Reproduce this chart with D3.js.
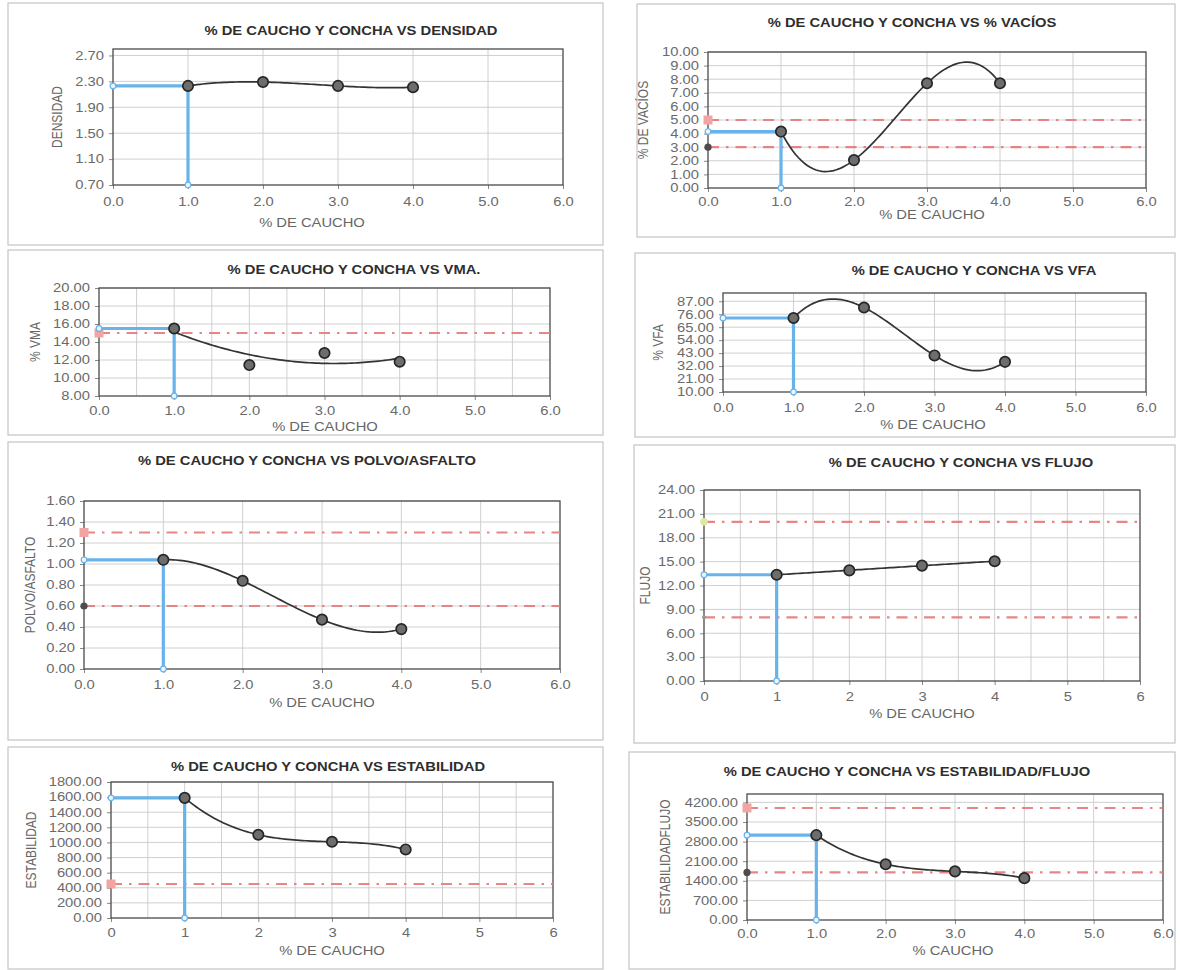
<!DOCTYPE html>
<html>
<head>
<meta charset="utf-8">
<script src="https://cdn.jsdelivr.net/npm/d3@7"></script>
<style>
  body { margin: 0; background: #fff; }
  svg { display: block; }
</style>
</head>
<body>
<svg id="chart" width="1180" height="970"></svg>
<script>
// ---- Data: Marshall test results vs % rubber (caucho) with shell (concha) ----
const rubberPct = [1, 2, 3, 4];
const designRubberPct = 1;
const xTickValues = [0, 1, 2, 3, 4, 5, 6];

const densidad = [2.23, 2.29, 2.23, 2.21];
const vacios = [4.15, 2.05, 7.7, 7.7];
const vma = [15.5, 11.44, 12.78, 11.81];
const vfa = [72.8, 81.7, 41.0, 35.6];
const polvoAsfalto = [1.04, 0.84, 0.47, 0.38];
const flujo = [13.35, 13.9, 14.5, 15.05];
const estabilidad = [1590, 1102, 1009, 907];
const estabilidadFlujo = [3030, 1990, 1736, 1495];

// specification limits (dash-dot lines)
const vaciosLimits = [5, 3];
const vmaLimits = [15];
const polvoLimits = [1.3, 0.6];
const flujoLimits = [20, 8];
const estabilidadLimits = [450];
const estabilidadFlujoLimits = [4000, 1700];

// y tick labels
const densidadTicks = [0.7, 1.1, 1.5, 1.9, 2.3, 2.7];
const vaciosTicks = [0, 1, 2, 3, 4, 5, 6, 7, 8, 9, 10];
const vmaTicks = [8, 10, 12, 14, 16, 18, 20];
const vfaTicks = [10, 21, 32, 43, 54, 65, 76, 87];
const polvoTicks = [0, 0.2, 0.4, 0.6, 0.8, 1.0, 1.2, 1.4, 1.6];
const flujoTicks = [0, 3, 6, 9, 12, 15, 18, 21, 24];
const estabilidadTicks = [0, 200, 400, 600, 800, 1000, 1200, 1400, 1600, 1800];
const estabilidadFlujoTicks = [0, 700, 1400, 2100, 2800, 3500, 4200];

// ---- Panel definitions (content) ----
const panels = [
  { title: "% DE CAUCHO Y CONCHA VS DENSIDAD", yLabel: "DENSIDAD", xLabel: "% DE CAUCHO",
    values: densidad, ticks: densidadTicks, yMax: 2.8, limits: [], trend: 3 },
  { title: "% DE CAUCHO Y CONCHA VS % VACÍOS", yLabel: "% DE VACÍOS", xLabel: "% DE CAUCHO",
    values: vacios, ticks: vaciosTicks, yMax: 10, limits: vaciosLimits, trend: 3 },
  { title: "% DE CAUCHO Y CONCHA VS VMA.", yLabel: "% VMA", xLabel: "% DE CAUCHO",
    values: vma, ticks: vmaTicks, yMax: 20, limits: vmaLimits, trend: 2 },
  { title: "% DE CAUCHO Y CONCHA VS VFA", yLabel: "% VFA", xLabel: "% DE CAUCHO",
    values: vfa, ticks: vfaTicks, yMax: 94, limits: [], trend: 3 },
  { title: "% DE CAUCHO Y CONCHA VS POLVO/ASFALTO", yLabel: "POLVO/ASFALTO", xLabel: "% DE CAUCHO",
    values: polvoAsfalto, ticks: polvoTicks, yMax: 1.6, limits: polvoLimits, trend: 3 },
  { title: "% DE CAUCHO Y CONCHA VS FLUJO", yLabel: "FLUJO", xLabel: "% DE CAUCHO",
    values: flujo, ticks: flujoTicks, yMax: 24, limits: flujoLimits, trend: 1 },
  { title: "% DE CAUCHO Y CONCHA VS ESTABILIDAD", yLabel: "ESTABILIDAD", xLabel: "% DE CAUCHO",
    values: estabilidad, ticks: estabilidadTicks, yMax: 1800, limits: estabilidadLimits, trend: 3 },
  { title: "% DE CAUCHO Y CONCHA VS ESTABILIDAD/FLUJO", yLabel: "ESTABILIDADFLUJO", xLabel: "% CAUCHO",
    values: estabilidadFlujo, ticks: estabilidadFlujoTicks, yMax: 4500, limits: estabilidadFlujoLimits, trend: 3 }
];

// ---- Layout and style for each panel ----
const layouts = [
  { frame: [8, 3, 595, 242], plot: [113, 49, 563, 185], titleX: 351, titleY: 31, yLabelX: 57, xLabelX: 312, xLabelY: 223, xTickY: 202, xFmt: ".1f", halfGrid: false, marks: [] },
  { frame: [637, 4, 538, 233], plot: [708, 52, 1146, 188], titleX: 912, titleY: 23, yLabelX: 643, xLabelX: 932, xLabelY: 215, xTickY: 202, xFmt: ".1f", halfGrid: false, marks: ["square", "dot"] },
  { frame: [8, 250, 595, 185], plot: [99, 288, 550, 396], titleX: 354, titleY: 270, yLabelX: 35, xLabelX: 325, xLabelY: 427, xTickY: 411, xFmt: ".1f", halfGrid: true, marks: ["square"] },
  { frame: [635, 253, 540, 184], plot: [723, 293, 1146, 392], titleX: 974, titleY: 271, yLabelX: 658, xLabelX: 933, xLabelY: 425, xTickY: 408, xFmt: ".1f", halfGrid: false, marks: [] },
  { frame: [8, 442, 595, 298], plot: [84, 501, 560, 669], titleX: 307, titleY: 461, yLabelX: 30, xLabelX: 322, xLabelY: 703, xTickY: 685, xFmt: ".1f", halfGrid: false, marks: ["square", "dot"] },
  { frame: [634, 445, 541, 298], plot: [704, 490, 1140, 681], titleX: 961, titleY: 463, yLabelX: 645, xLabelX: 922, xLabelY: 714, xTickY: 697, xFmt: "d", halfGrid: true, marks: ["yellow", "small"] },
  { frame: [8, 747, 595, 222], plot: [111, 782, 553, 918], titleX: 328, titleY: 767, yLabelX: 31, xLabelX: 332, xLabelY: 951, xTickY: 933, xFmt: "d", halfGrid: true, marks: ["square"] },
  { frame: [629, 752, 546, 217], plot: [747, 794, 1163, 920], titleX: 907, titleY: 772, yLabelX: 665, xLabelX: 953, xLabelY: 951, xTickY: 934, xFmt: ".1f", halfGrid: false, marks: ["square", "dot"] }
];

const SX = 1.23;                       // horizontal text stretch of the printed sheet
const FONT = "'Liberation Sans', Arial, Helvetica, sans-serif";
const C = {
  frame: "#c4c4c4", plotBorder: "#4a4a4a", grid: "#cbcbcb", tickText: "#6a6a6a",
  title: "#2e2e2e", axisTitle: "#666", line: "#333", markFill: "#6d6d6d", markStroke: "#262626",
  design: "#68b3ea", limit: "#e67a7a", limitSquare: "#f2a3a3", limitDot: "#4d4d4d", yellow: "#dfe7a4"
};

// least-squares polynomial trendline coefficients (c0 + c1 x + c2 x^2 ...)
function polyFit(xs, ys, order) {
  const n = order + 1;
  const A = Array.from({ length: n }, () => new Array(n + 1).fill(0));
  for (let r = 0; r < n; r++) {
    for (let c = 0; c < n; c++) A[r][c] = d3.sum(xs, v => Math.pow(v, r + c));
    A[r][n] = d3.sum(xs, (v, i) => ys[i] * Math.pow(v, r));
  }
  for (let i = 0; i < n; i++) {
    let p = i;
    for (let k = i + 1; k < n; k++) if (Math.abs(A[k][i]) > Math.abs(A[p][i])) p = k;
    [A[i], A[p]] = [A[p], A[i]];
    for (let k = 0; k < n; k++) {
      if (k === i) continue;
      const f = A[k][i] / A[i][i];
      for (let c = i; c <= n; c++) A[k][c] -= f * A[i][c];
    }
  }
  return A.map((row, i) => row[n] / row[i]);
}
const polyEval = (coef, v) => coef.reduce((s, c, i) => s + c * Math.pow(v, i), 0);

function label(g, x, y, s, o = {}) {
  const t = g.append("text")
    .attr("font-family", FONT)
    .attr("font-size", o.size || 12)
    .attr("font-weight", o.weight || "normal")
    .attr("fill", o.fill || C.axisTitle)
    .attr("text-anchor", o.anchor || "middle")
    .attr("dy", "0.35em")
    .text(s);
  t.attr("transform", o.rotate
    ? `translate(${x},${y}) rotate(-90) scale(1,${SX})`
    : `translate(${x},${y}) scale(${SX},1)`);
  return t;
}

const svg = d3.select("#chart");

panels.forEach((p, i) => {
  const L = layouts[i];
  const [pl, pt, pr, pb] = L.plot;
  const g = svg.append("g");

  // chart area border
  g.append("rect")
    .attr("x", L.frame[0]).attr("y", L.frame[1])
    .attr("width", L.frame[2]).attr("height", L.frame[3])
    .attr("fill", "#fff").attr("stroke", C.frame).attr("stroke-width", 1.2);

  const x = d3.scaleLinear().domain([0, 6]).range([pl, pr]);
  const y = d3.scaleLinear().domain([p.ticks[0], p.yMax]).range([pb, pt]);

  // gridlines
  const vGrid = L.halfGrid ? d3.range(0.5, 6, 0.5) : xTickValues.slice(1, -1);
  g.append("g").selectAll("line").data(vGrid).join("line")
    .attr("x1", d => x(d)).attr("x2", d => x(d)).attr("y1", pt).attr("y2", pb)
    .attr("stroke", C.grid).attr("stroke-width", 0.9);
  g.append("g").selectAll("line").data(p.ticks.slice(1)).join("line")
    .attr("x1", pl).attr("x2", pr).attr("y1", d => y(d)).attr("y2", d => y(d))
    .attr("stroke", C.grid).attr("stroke-width", 0.9);

  // axes
  const yAxis = g.append("g").attr("transform", `translate(${pl},0)`)
    .call(d3.axisLeft(y).tickValues(p.ticks).tickFormat(d3.format(".2f")).tickSize(4).tickPadding(5));
  const xAxis = g.append("g").attr("transform", `translate(0,${pb})`)
    .call(d3.axisBottom(x).tickValues(xTickValues).tickFormat(d3.format(L.xFmt)).tickSize(4).tickPadding(5));
  [yAxis, xAxis].forEach(a => {
    a.select(".domain").remove();
    a.selectAll(".tick line").attr("stroke", "#888");
    a.selectAll(".tick text")
      .attr("font-family", FONT).attr("font-size", 12).attr("fill", C.tickText);
  });
  yAxis.selectAll(".tick text").attr("x", -9 / SX).attr("transform", `scale(${SX},1)`);
  xAxis.selectAll(".tick text").attr("y", null).attr("dy", null)
    .attr("transform", `translate(0,${L.xTickY - pb}) scale(${SX},1)`)
    .attr("dominant-baseline", "central");

  // plot border
  g.append("rect").attr("x", pl).attr("y", pt).attr("width", pr - pl).attr("height", pb - pt)
    .attr("fill", "none").attr("stroke", C.plotBorder).attr("stroke-width", 1.3);

  // specification limits
  p.limits.forEach((v, k) => {
    g.append("line")
      .attr("x1", x(0)).attr("x2", x(6)).attr("y1", y(v)).attr("y2", y(v))
      .attr("stroke", C.limit).attr("stroke-width", 2.2)
      .attr("stroke-dasharray", "11,7,2.5,7").attr("opacity", 0.9);
    const kind = L.marks[k];
    if (kind === "square") {
      g.append("rect").attr("x", x(0) - 4.5).attr("y", y(v) - 4.5).attr("width", 9).attr("height", 9)
        .attr("fill", C.limitSquare);
    } else if (kind === "dot") {
      g.append("circle").attr("cx", x(0)).attr("cy", y(v)).attr("r", 3.6).attr("fill", C.limitDot);
    } else if (kind === "yellow") {
      g.append("circle").attr("cx", x(0)).attr("cy", y(v)).attr("r", 3.8).attr("fill", C.yellow);
    } else if (kind === "small") {
      g.append("circle").attr("cx", x(0)).attr("cy", y(v)).attr("r", 2).attr("fill", "#999");
    }
  });

  // design content at 1 % rubber
  const dv = p.values[rubberPct.indexOf(designRubberPct)];
  g.append("path")
    .attr("d", `M${x(0)},${y(dv)}H${x(designRubberPct)}V${y(p.ticks[0])}`)
    .attr("fill", "none").attr("stroke", C.design).attr("stroke-width", 3.2);
  g.append("g").selectAll("circle").data([[0, dv], [designRubberPct, p.ticks[0]]]).join("circle")
    .attr("cx", d => x(d[0])).attr("cy", d => y(d[1])).attr("r", 2.8)
    .attr("fill", "#eaf5fd").attr("stroke", C.design).attr("stroke-width", 1.2);

  // trendline
  const coef = polyFit(rubberPct, p.values, p.trend);
  const xs = d3.range(rubberPct[0], rubberPct[rubberPct.length - 1] + 1e-9, 0.04);
  g.append("path")
    .datum(xs)
    .attr("d", d3.line().x(d => x(d)).y(d => y(polyEval(coef, d))))
    .attr("fill", "none").attr("stroke", C.line).attr("stroke-width", 1.7);

  // measured points
  g.append("g").selectAll("circle").data(rubberPct).join("circle")
    .attr("cx", d => x(d)).attr("cy", (d, k) => y(p.values[k])).attr("r", 5.2)
    .attr("fill", C.markFill).attr("stroke", C.markStroke).attr("stroke-width", 1.7);

  // titles
  label(g, L.titleX, L.titleY, p.title, { weight: "bold", fill: C.title, size: 12 });
  label(g, L.xLabelX, L.xLabelY, p.xLabel, { fill: C.axisTitle });
  label(g, L.yLabelX, (pt + pb) / 2, p.yLabel, { fill: C.axisTitle, rotate: true });
});
</script>
</body>
</html>
